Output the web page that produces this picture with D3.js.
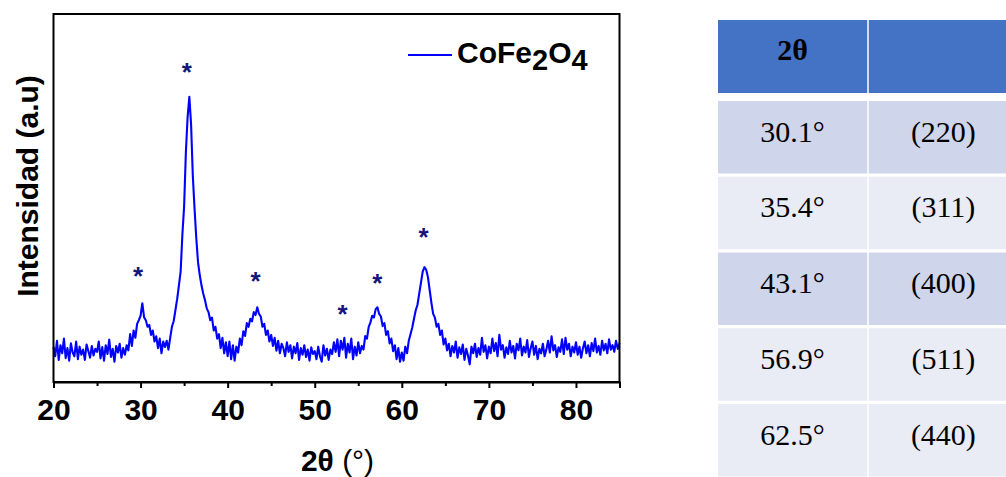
<!DOCTYPE html>
<html>
<head>
<meta charset="utf-8">
<script src="https://cdn.jsdelivr.net/npm/d3@7/dist/d3.min.js"></script>
<style>
  body { margin: 0; background: #fff; }
  svg { display: block; }
  .sans { font-family: "Liberation Sans", Arial, sans-serif; }
  .serif { font-family: "Liberation Serif", "Times New Roman", serif; }
</style>
</head>
<body>
<div id="chart"></div>
<script>
// XRD scan: start angle / step of the diffractometer, intensities (a.u.)
const scanStart = 20, scanStep = 0.2
const intensity = [
  // 20.0 - 24.8
  95, 70, 112, 60, 100, 78, 118, 65, 92, 58, 105, 80, 70, 110, 62, 96, 74, 88, 60, 102, 84, 66, 98, 72, 90,
  // 25.0 - 29.8
  82, 110, 64, 95, 58, 100, 76, 115, 68, 90, 55, 98, 80, 104, 66, 92, 74, 100, 86, 130, 98, 140, 120, 158, 168,
  // 30.0 - 34.8
  180, 214, 176, 168, 150, 155, 128, 140, 110, 124, 92, 118, 78, 110, 95, 112, 88, 120, 150, 165, 195, 225, 262, 300, 400,
  // 35.0 - 39.8
  477, 623, 720, 775, 700, 560, 470, 390, 325, 290, 262, 240, 222, 200, 190, 168, 175, 140, 150, 118, 130, 92, 120, 78, 108,
  // 40.0 - 44.8
  70, 110, 62, 100, 58, 96, 80, 118, 100, 138, 125, 160, 150, 172, 165, 190, 182, 203, 185, 178, 150, 158, 128, 140, 110,
  // 45.0 - 49.8
  128, 98, 120, 85, 112, 78, 104, 92, 70, 108, 82, 100, 64, 96, 78, 106, 60, 92, 74, 100, 68, 88, 58, 94, 76,
  // 50.0 - 54.8
  84, 62, 96, 70, 55, 100, 72, 90, 60, 88, 76, 108, 82, 116, 70, 112, 88, 120, 66, 104, 80, 118, 62, 96, 72,
  // 55.0 - 59.8
  108, 78, 98, 88, 125, 118, 150, 162, 180, 175, 198, 203, 185, 178, 152, 160, 128, 138, 105, 118, 84, 100, 62, 92, 55,
  // 60.0 - 64.8
  80, 58, 96, 78, 112, 130, 148, 172, 195, 210, 240, 270, 300, 312, 305, 285, 250, 215, 185, 175, 150, 158, 128, 140, 102,
  // 65.0 - 69.8
  118, 86, 104, 70, 98, 80, 110, 66, 94, 76, 102, 60, 90, 72, 48, 96, 78, 104, 68, 92, 74, 120, 82, 100, 64,
  // 70.0 - 74.8
  96, 78, 118, 84, 106, 70, 128, 88, 100, 66, 94, 76, 112, 80, 98, 64, 104, 86, 118, 72, 96, 80, 114, 68, 92,
  // 75.0 - 79.8
  110, 74, 98, 62, 90, 78, 104, 70, 88, 112, 80, 124, 86, 100, 68, 94, 82, 116, 76, 120, 88, 104, 70, 96, 80,
  // 80.0 - 85.0
  108, 74, 96, 66, 92, 110, 78, 100, 70, 106, 84, 118, 80, 98, 74, 112, 86, 104, 78, 116, 88, 100, 82, 112, 90, 106
]

// asterisks above the reflections
const starAngles = [29.7, 35.3, 43.2, 53.2, 57.2, 62.5]
const starHeights = [304, 859, 291, 201, 285, 410]

// x axis ticks
const majorTicks = [20, 30, 40, 50, 60, 70, 80]
const minorTicks = [25, 35, 45, 55, 65, 75, 85]

// table
const tableHeader = ['2θ', '']
const peakAngles = ['30.1°', '35.4°', '43.1°', '56.9°', '62.5°']
const planes = ['(220)', '(311)', '(400)', '(511)', '(440)']

const W = 1006, H = 477
const plot = { left: 53.5, right: 619.5, top: 14, bottom: 382 }

const svg = d3.select('#chart')
  .append('svg')
  .attr('width', W)
  .attr('height', H)
  .attr('xmlns', 'http://www.w3.org/2000/svg')

svg.append('rect').attr('width', W).attr('height', H).attr('fill', '#fff')

let x = d3.scaleLinear().domain([20, 85]).range([plot.left, plot.right])
let y = d3.scaleLinear().domain([0, 1000]).range([plot.bottom, plot.top])

// trace
let line = d3.line()
  .x((d, i) => x(scanStart + i * scanStep))
  .y(d => y(d))

svg.append('path')
  .datum(intensity)
  .attr('d', line)
  .attr('fill', 'none')
  .attr('stroke', '#0000ff')
  .attr('stroke-width', 2.1)
  .attr('stroke-linejoin', 'round')

// asterisks
svg.selectAll('.star')
  .data(starAngles)
  .join('text')
  .attr('class', 'star sans')
  .attr('x', d => x(d))
  .attr('y', (d, i) => y(starHeights[i]) + 15)
  .attr('text-anchor', 'middle')
  .attr('font-size', 26)
  .attr('font-weight', 'bold')
  .attr('fill', '#15157a')
  .text('*')

// frame
svg.append('rect')
  .attr('x', plot.left)
  .attr('y', plot.top)
  .attr('width', plot.right - plot.left)
  .attr('height', plot.bottom - plot.top)
  .attr('fill', 'none')
  .attr('stroke', '#000')
  .attr('stroke-width', 2)

// x axis
let xAxis = svg.append('g')
  .attr('transform', `translate(0,${plot.bottom})`)
  .call(d3.axisBottom(x).tickValues(majorTicks).tickSize(6).tickFormat(d3.format('d')))
xAxis.select('.domain').attr('stroke-width', 2)
xAxis.selectAll('.tick line').attr('stroke-width', 2)
xAxis.selectAll('.tick text')
  .attr('class', 'sans')
  .attr('font-size', 30)
  .attr('font-weight', 'bold')
  .attr('fill', '#000')
  .attr('y', 38)
  .attr('dy', null)

let xMinor = svg.append('g')
  .attr('transform', `translate(0,${plot.bottom})`)
  .call(d3.axisBottom(x).tickValues(minorTicks).tickSize(4).tickFormat(''))
xMinor.select('.domain').remove()
xMinor.selectAll('.tick line').attr('stroke-width', 2)

// axis titles
let xTitle = svg.append('text')
  .attr('class', 'sans')
  .attr('x', (plot.left + plot.right) / 2 + 1)
  .attr('y', 471)
  .attr('text-anchor', 'middle')
  .attr('font-size', 30)
  .attr('fill', '#000')
xTitle.append('tspan').attr('font-weight', 'bold').text('2θ')
xTitle.append('tspan').text(' (°)')

svg.append('text')
  .attr('class', 'sans')
  .attr('transform', 'translate(38,186) rotate(-90)')
  .attr('text-anchor', 'middle')
  .attr('font-size', 30)
  .attr('font-weight', 'bold')
  .attr('fill', '#000')
  .text('Intensidad (a.u)')

// legend
svg.append('line')
  .attr('x1', 408).attr('x2', 452)
  .attr('y1', 55).attr('y2', 55)
  .attr('stroke', '#0000ff')
  .attr('stroke-width', 1.8)

let leg = svg.append('text')
  .attr('class', 'sans')
  .attr('x', 457)
  .attr('y', 63)
  .attr('font-size', 30)
  .attr('font-weight', 'bold')
  .attr('fill', '#000')
leg.append('tspan').text('CoFe')
leg.append('tspan').attr('dy', 7).attr('font-size', 29).text('2')
leg.append('tspan').attr('dy', -7).text('O')
leg.append('tspan').attr('dy', 7).attr('font-size', 29).text('4')

// table
let col = d3.scaleBand().domain([0, 1]).range([718, 1018]).paddingInner(0.01)
let row = d3.scaleBand().domain(d3.range(peakAngles.length)).range([101, 476.5]).paddingInner(0.043)
let rowFill = i => (i === 0 || i === 2) ? '#cfd5ea' : '#e9ebf5'

svg.selectAll('.head')
  .data(tableHeader)
  .join('rect')
  .attr('class', 'head')
  .attr('x', (d, i) => col(i))
  .attr('y', 20)
  .attr('width', col.bandwidth())
  .attr('height', 73)
  .attr('fill', '#4472c4')

svg.selectAll('.headtext')
  .data(tableHeader)
  .join('text')
  .attr('class', 'headtext serif')
  .attr('x', (d, i) => col(i) + col.bandwidth() / 2)
  .attr('y', 60)
  .attr('text-anchor', 'middle')
  .attr('font-size', 30)
  .attr('font-weight', 'bold')
  .attr('fill', '#000')
  .text(d => d)

let cells = []
peakAngles.forEach((a, i) => {
  cells.push({ r: i, c: 0, t: a })
  cells.push({ r: i, c: 1, t: planes[i] })
})

svg.selectAll('.cell')
  .data(cells)
  .join('rect')
  .attr('class', 'cell')
  .attr('x', d => col(d.c))
  .attr('y', d => row(d.r))
  .attr('width', col.bandwidth())
  .attr('height', row.bandwidth())
  .attr('fill', d => rowFill(d.r))

svg.selectAll('.celltext')
  .data(cells)
  .join('text')
  .attr('class', 'celltext serif')
  .attr('x', d => col(d.c) + col.bandwidth() / 2)
  .attr('y', d => row(d.r) + 40.5)
  .attr('text-anchor', 'middle')
  .attr('font-size', 30)
  .attr('fill', '#000')
  .text(d => d.t)
</script>
</body>
</html>
